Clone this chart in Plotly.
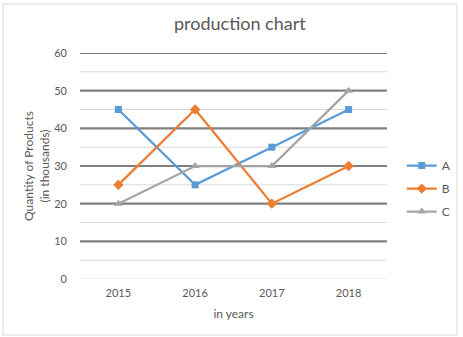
import plotly.graph_objects as go

years = ["2015", "2016", "2017", "2018"]
series_a = [45, 25, 35, 45]
series_b = [25, 45, 20, 30]
series_c = [20, 30, 30, 50]
y_ticks = [0, 10, 20, 30, 40, 50, 60]
major_grid = [10, 20, 30, 40, 50, 60]
minor_grid = [0, 5, 15, 25, 35, 45, 55]

FONT = "Lato, 'Open Sans', sans-serif"
TEXT = "#595959"

fig = go.Figure()
fig.add_trace(go.Scatter(x=years, y=series_a, name="A", legendgroup="a", mode="lines+markers",
                         line=dict(color="#5B9BD5", width=2.25),
                         marker=dict(symbol="square", size=7, color="#5B9BD5")))
fig.add_trace(go.Scatter(x=years, y=series_b, name="B", legendgroup="b", mode="lines+markers",
                         line=dict(color="#ED7D31", width=2.25),
                         marker=dict(symbol="diamond", size=8, color="#ED7D31")))
fig.add_trace(go.Scatter(x=years, y=series_c, name="C", legendgroup="c", mode="lines+markers",
                         line=dict(color="#A5A5A5", width=2.25),
                         marker=dict(symbol="triangle-up", size=8, color="#A5A5A5")))

shapes = []
for v in minor_grid:
    shapes.append(dict(type="line", xref="paper", yref="y", x0=0, x1=1, y0=v, y1=v,
                       line=dict(color="#D9D9D9", width=1), layer="below"))
for v in major_grid:
    shapes.append(dict(type="line", xref="paper", yref="y", x0=0, x1=1, y0=v, y1=v,
                       line=dict(color="#808080", width=2.2), layer="below"))
# chart border
shapes.append(dict(type="rect", xref="paper", yref="paper",
                   x0=-77 / 307, x1=(457 - 80) / 307, y0=-56 / 226, y1=(279 - 4) / 226,
                   line=dict(color="#D9D9D9", width=1), layer="below"))

fig.update_layout(
    width=463, height=337,
    margin=dict(l=80, r=76, t=53, b=58, autoexpand=False),
    paper_bgcolor="white", plot_bgcolor="white",
    font=dict(family=FONT, color=TEXT, size=11),
    title=dict(text="production chart", x=0.518, xanchor="center", y=0.93, yanchor="middle",
               font=dict(size=18, color=TEXT, family=FONT)),
    showlegend=True,
    legend=dict(x=1.048, xanchor="left", y=0.40, yanchor="middle",
                font=dict(size=12, color=TEXT), itemwidth=30,
                tracegroupgap=4, bgcolor="rgba(0,0,0,0)"),
    shapes=shapes,
)
fig.update_xaxes(type="category", range=[-0.5, 3.5], showgrid=False, showline=False,
                 zeroline=False, ticks="", ticklabelstandoff=6,
                 tickfont=dict(size=11, color=TEXT),
                 title=dict(text="in years", font=dict(size=12, color=TEXT), standoff=11))
fig.update_yaxes(range=[0, 60], tickvals=y_ticks, showgrid=False, zeroline=False,
                 showline=False, ticks="", ticklabelstandoff=12,
                 tickfont=dict(size=11, color=TEXT),
                 title=dict(text="Quantity of Products<br>(in thousands)",
                            font=dict(size=12, color=TEXT), standoff=2))

fig.write_html("out.html")
